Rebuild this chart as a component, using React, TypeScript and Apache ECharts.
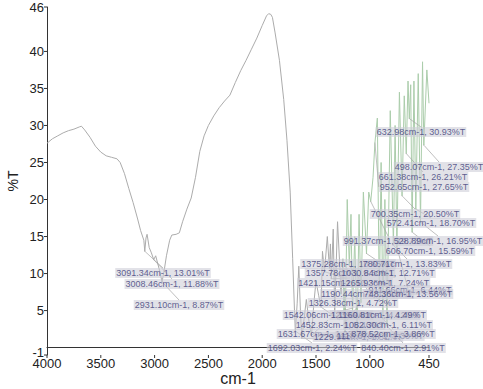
import React, { useEffect, useRef } from "react";
import * as echarts from "echarts";

// Spectrum (wavenumber in cm-1, transmittance in %T)
const wavenumbers = [
  4000, 3950, 3900, 3850, 3800, 3750, 3700, 3680, 3650, 3600, 3550, 3500, 3450, 3400, 3350, 3320,
  3280, 3240, 3200, 3160, 3130, 3100, 3091.34, 3080, 3070, 3050, 3030, 3008.46, 2990, 2970, 2950,
  2931.1, 2910, 2890, 2860, 2840, 2800, 2770, 2740, 2700, 2660, 2620, 2580, 2540, 2500, 2450, 2400,
  2350, 2300, 2250, 2200, 2150, 2100, 2050, 2000, 1960, 1940, 1920, 1905, 1880, 1840, 1800, 1770,
  1740, 1717, 1700, 1692.03, 1675, 1660, 1645, 1631.67, 1610, 1590, 1565, 1542.06, 1520, 1500, 1475,
  1452.83, 1440, 1421.15, 1395, 1375.28, 1366, 1357.78, 1340, 1326.38, 1300, 1265.93, 1250, 1239.94,
  1235, 1229.96, 1210, 1190.44, 1175, 1160.81, 1140, 1118.37, 1100, 1082.3, 1060, 1030.84, 1010,
  991.37, 970, 952.65, 930, 911.66, 895, 878.52, 860, 840.4, 810, 780.71, 765, 748.36, 725, 700.35,
  680, 661.38, 645, 632.98, 620, 606.7, 590, 572.41, 550, 528.89, 510, 498.07, 470, 450,
];
const transmittance = [
  27.6, 28.2, 28.6, 29.0, 29.3, 29.5, 29.8, 29.9, 29.4, 28.4, 27.2, 26.4, 25.9, 25.7, 25.5, 25.0,
  23.5, 21.5, 19.6, 17.5, 15.8, 14.5, 13.01, 14.8, 15.3, 13.5, 12.8, 11.88, 12.4, 11.3, 10.2,
  8.87, 10.5, 12.4, 14.5, 15.2, 15.3, 15.5, 17.0, 18.7, 20.2, 23.0, 26.5, 28.6, 30.0, 31.3, 32.4,
  33.3, 34.1, 35.8, 37.4, 38.8, 40.3, 41.8, 43.5, 44.8, 45.1, 45.0, 44.6, 42.5, 38.8, 33.5, 28.0,
  21.0, 12.0, 5.0, 2.24, 6.0, 11.0, 5.0, 1.23, 4.0, 6.5, 3.5, 1.64, 6.0, 9.0, 7.0,
  5.46, 13.0, 10.25, 15.0, 10.65, 14.0, 9.3, 16.0, 4.72, 17.0, 7.24, 12.0, 4.12,
  8.0, 1.81, 20.0, 11.06, 18.0, 4.49, 15.0, 1.3, 18.0, 6.11, 21.0, 12.71, 21.0,
  19.73, 23.0, 27.65, 31.0, 6.44, 25.0, 3.86, 20.0, 2.91, 32.0, 13.83, 30.0, 13.56, 34.5, 20.5,
  34.0, 26.21, 36.0, 30.93, 35.5, 15.59, 36.0, 18.7, 37.0, 16.95, 38.6, 27.35, 37.5, 33.0,
];

// Labelled peaks
const peakWavenumbers = [
  3091.34, 3008.46, 2931.1, 1692.03, 1631.67, 1542.06, 1452.83, 1421.15, 1375.28, 1357.78, 1326.38,
  1265.93, 1239.94, 1229.96, 1190.44, 1160.81, 1118.37, 1082.3, 1030.84, 991.37, 952.65, 911.66,
  878.52, 840.4, 780.71, 748.36, 700.35, 661.38, 632.98, 606.7, 572.41, 528.89, 498.07,
];
const peakValues = [
  13.01, 11.88, 8.87, 2.24, 1.23, 1.64, 5.46, 10.25, 10.65, 9.3, 4.72,
  7.24, 4.12, 1.81, 11.06, 4.49, 1.3, 6.11, 12.71, 19.73, 27.65, 6.44,
  3.86, 2.91, 13.83, 13.56, 20.5, 26.21, 30.93, 15.59, 18.7, 16.95, 27.35,
];

// Axis ticks
const xTicks = [4000, 3500, 3000, 2500, 2000, 1500, 1000, 450];
const yTicks = [-1, 5, 10, 15, 20, 25, 30, 35, 40, 46];

const X_MIN = 450;
const X_MAX = 4000;
const Y_MIN = -1;
const Y_MAX = 46;
const FINGERPRINT_EDGE = 1250; // colour changes below this wavenumber

// Layout only: pixel centres of the peak annotation boxes
const labelCenters: [number, number][] = [
  [163, 273], [172, 284], [179, 305], [312, 348], [322, 334], [328, 315], [340, 325], [345, 283],
  [348, 264], [350, 273], [353, 303], [385, 283], [375, 315], [358, 337], [367, 294], [382, 315],
  [380, 336], [388, 325], [388, 273], [388, 241], [424, 187], [410, 290], [393, 334], [403, 348],
  [407, 264], [408, 294], [415, 214], [423, 177], [421, 132], [430, 251], [431, 223], [438, 241],
  [439, 167],
];

const axisFont = "'Liberation Sans Narrow', 'Liberation Sans', Arial, sans-serif";

export default function App() {
  const ref = useRef<HTMLDivElement>(null);
  useEffect(() => {
    if (!ref.current) return;
    const chart = echarts.init(ref.current, undefined, { renderer: "svg" });
    const spectrum = wavenumbers.map((w, i) => [w, transmittance[i]]);
    const edgeIdx = wavenumbers.findIndex((w) => w < FINGERPRINT_EDGE);
    const highPart = spectrum.slice(0, edgeIdx);
    const lowPart = spectrum.slice(edgeIdx - 1);
    chart.setOption({
      animation: false,
      backgroundColor: "#ffffff",
      grid: {
        left: 47,
        right: 54,
        top: 7,
        bottom: 34,
        containLabel: false,
        outerBoundsMode: "none",
      },
      xAxis: {
        type: "value",
        min: X_MIN,
        max: X_MAX,
        inverse: true,
        name: "cm-1",
        nameLocation: "middle",
        nameGap: 15,
        nameTextStyle: { fontFamily: axisFont, fontSize: 16, color: "#222" },
        axisLine: { show: true, lineStyle: { color: "#333", width: 1 } },
        axisTick: { show: false },
        axisLabel: { show: false },
        splitLine: { show: false },
      },
      yAxis: {
        type: "value",
        min: Y_MIN,
        max: Y_MAX,
        name: "%T",
        nameLocation: "middle",
        nameGap: 27,
        nameTextStyle: { fontFamily: axisFont, fontSize: 14, color: "#222" },
        axisLine: { show: true, lineStyle: { color: "#333", width: 1 } },
        axisTick: { show: false },
        axisLabel: { show: false },
        splitLine: { show: false },
      },
      series: [
        {
          type: "line",
          data: highPart,
          showSymbol: false,
          symbol: "none",
          lineStyle: { width: 1, color: "#acacac" },
          z: 2,
        },
        {
          type: "line",
          data: lowPart,
          showSymbol: false,
          symbol: "none",
          lineStyle: { width: 1, color: "#abcdab" },
          z: 2,
        },
        {
          type: "scatter",
          data: peakWavenumbers.map((w, i) => [w, peakValues[i]]),
          symbolSize: 1,
          itemStyle: { color: "#aaa" },
          z: 3,
          label: {
            show: true,
            fontFamily: "'Liberation Sans', Arial, sans-serif",
            fontSize: 9,
            color: "#3a3a78",
            backgroundColor: "rgba(204,204,214,0.7)",
            padding: [1, 1, 0, 1],
            formatter: (p: any) =>
              `${p.value[0].toFixed(2)}cm-1, ${p.value[1].toFixed(2)}%T`,
          },
          labelLine: { show: true, lineStyle: { color: "#a4a4a4", width: 0.7 } },
          labelLayout: (params: any) => {
            const c = labelCenters[params.dataIndex];
            return { x: c[0], y: c[1], align: "center", verticalAlign: "middle" };
          },
        },
        {
          // x-axis ticks and labels
          type: "custom",
          data: xTicks.map((v) => [v]),
          clip: false,
          silent: true,
          z: 4,
          renderItem: (params: any, api: any) => {
            const v = api.value(0);
            const p = api.coord([v, Y_MIN]);
            return {
              type: "group",
              children: [
                {
                  type: "line",
                  shape: { x1: p[0], y1: p[1], x2: p[0], y2: p[1] + 3 },
                  style: { stroke: "#333", lineWidth: 1 },
                },
                {
                  type: "text",
                  x: p[0],
                  y: p[1] + 2,
                  style: {
                    text: String(v),
                    fill: "#222",
                    font: `13px ${axisFont}`,
                    align: "center",
                    verticalAlign: "top",
                  },
                },
              ],
            };
          },
        },
        {
          // y-axis ticks and labels
          type: "custom",
          data: yTicks.map((v) => [v]),
          clip: false,
          silent: true,
          z: 4,
          renderItem: (params: any, api: any) => {
            const v = api.value(0);
            const p = api.coord([X_MAX, v]);
            return {
              type: "group",
              children: [
                {
                  type: "line",
                  shape: { x1: p[0] - 3, y1: p[1], x2: p[0], y2: p[1] },
                  style: { stroke: "#333", lineWidth: 1 },
                },
                {
                  type: "text",
                  x: p[0] - 3,
                  y: v === Y_MIN ? p[1] - 3 : p[1],
                  style: {
                    text: String(v),
                    fill: "#222",
                    font: `13px ${axisFont}`,
                    align: "right",
                    verticalAlign: "middle",
                  },
                },
              ],
            };
          },
        },
      ],
    });
    return () => chart.dispose();
  }, []);
  return (
    <div
      ref={ref}
      style={{ position: "fixed", left: 0, top: 0, width: 483, height: 389, background: "#fff" }}
    />
  );
}
